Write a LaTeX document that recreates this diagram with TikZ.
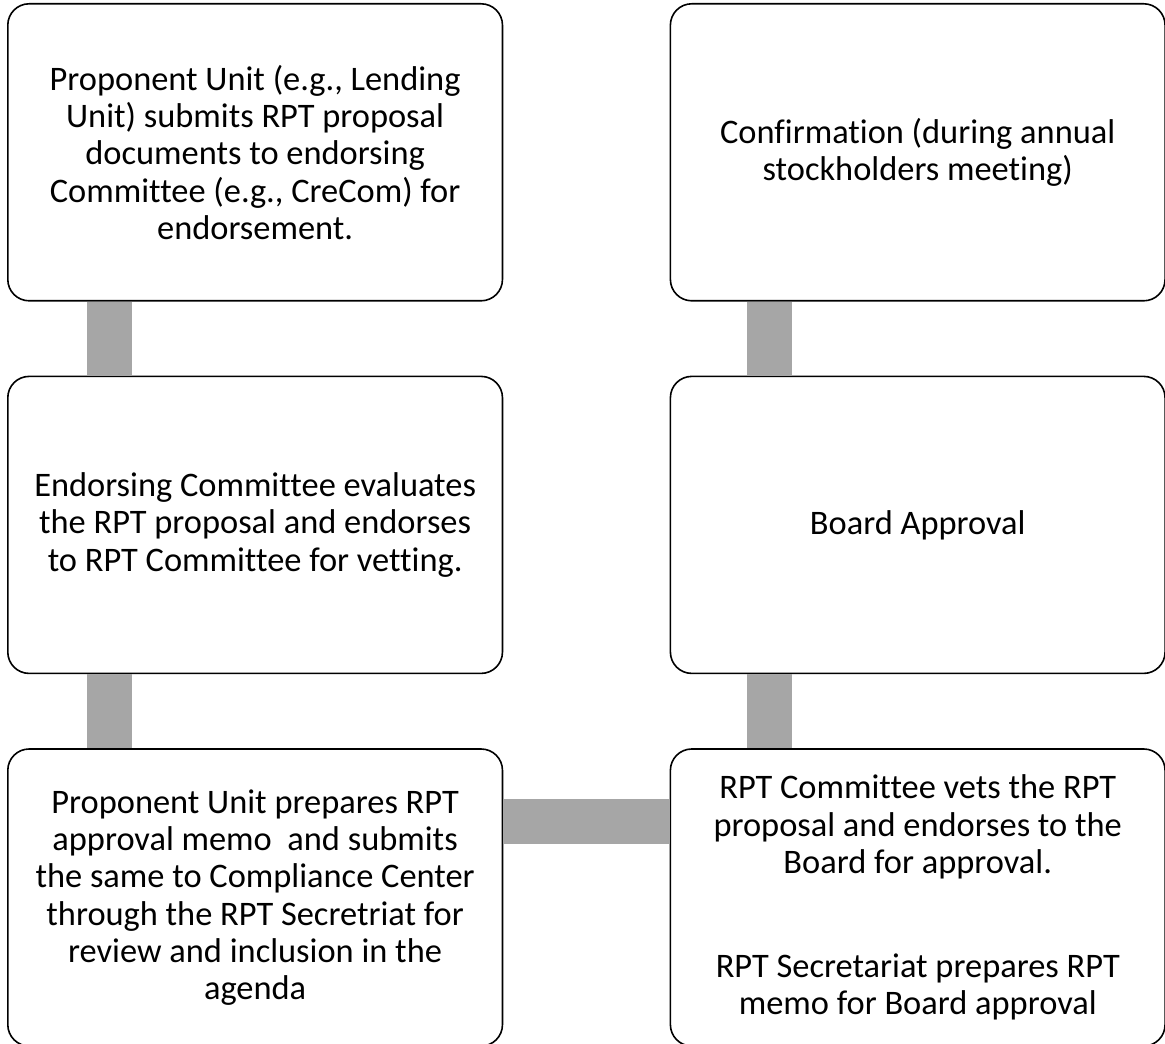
\documentclass[tikz,border=0pt]{standalone}
\usepackage{fontspec}
\setmainfont{Carlito}[Ligatures=NoCommon]
\usetikzlibrary{positioning}
\definecolor{bargray}{RGB}{166,166,166}

\begin{document}
\begin{tikzpicture}[node distance=55.5pt]
	\tikzset{stepbox/.style={draw, rectangle, line width=1.2pt, rounded corners=16pt, align=center, minimum width=371pt, minimum height=222.75pt, font=\fontsize{25.8}{28}\selectfont},
		greybar/.style={draw=bargray, line width=33.75pt},
	}
	\useasboundingbox (0,0) rectangle (873.75pt,-783pt);

	\node [stepbox, anchor=north west] (propose) at (5.25pt,-2.25pt) {Proponent Unit (e.g., Lending\\Unit) submits RPT proposal\\documents to endorsing\\Committee (e.g., CreCom) for\\endorsement.};
	\node [stepbox, below=of propose] (evaluate) {Endorsing Committee evaluates\\the RPT proposal and endorses\\to RPT Committee for vetting.};
	\node [stepbox, below=of evaluate] (memo) {Proponent Unit prepares RPT\\approval memo\ \ and submits\\the same to Compliance Center\\through the RPT Secretriat for\\review and inclusion in the\\agenda};
	\node [stepbox, right=124.75pt of memo] (vet) {RPT Committee vets the RPT\\proposal and endorses to the\\Board for approval.\\[50pt]RPT Secretariat prepares RPT\\memo for Board approval};
	\node [stepbox, above=of vet] (approve) {Board Approval};
	\node [stepbox, above=of approve] (confirm) {Confirmation (during annual\\stockholders meeting)};

	\path[greybar] ([xshift=77pt]propose.south west) -- ([xshift=77pt]evaluate.north west);
	\path[greybar] ([xshift=77pt]evaluate.south west) -- ([xshift=77pt]memo.north west);
	\path[greybar] ([yshift=-55pt]memo.north east) -- ([yshift=-55pt]vet.north west);
	\path[greybar] ([xshift=75pt]vet.north west) -- ([xshift=75pt]approve.south west);
	\path[greybar] ([xshift=75pt]approve.north west) -- ([xshift=75pt]confirm.south west);

\end{tikzpicture}
\end{document}
